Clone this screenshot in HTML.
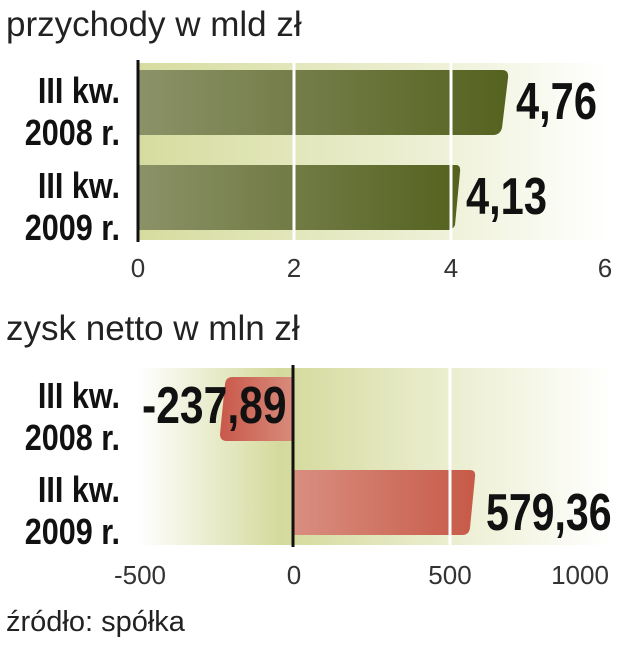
<!DOCTYPE html>
<html><head><meta charset="utf-8"><style>
body{margin:0;background:#fff;width:619px;height:640px;overflow:hidden;font-family:"Liberation Sans",sans-serif}
</style></head><body>
<svg width="619" height="640" xmlns="http://www.w3.org/2000/svg" font-family="Liberation Sans, sans-serif">
<defs>
<linearGradient id="bg" x1="0" x2="1"><stop offset="0" stop-color="#d6dc9f"/><stop offset="0.6" stop-color="#ecefd2"/><stop offset="1" stop-color="#ffffff"/></linearGradient>
<linearGradient id="bg2" x1="0" x2="1"><stop offset="0" stop-color="#ffffff"/><stop offset="0.3" stop-color="#d4da9c"/><stop offset="0.7" stop-color="#eef0d6"/><stop offset="1" stop-color="#ffffff"/></linearGradient>
<linearGradient id="g" x1="0" x2="1"><stop offset="0" stop-color="#8b9268"/><stop offset="1" stop-color="#55621f"/></linearGradient>
<linearGradient id="r1" x1="0" x2="1"><stop offset="0" stop-color="#c9584a"/><stop offset="1" stop-color="#d88b7c"/></linearGradient>
<linearGradient id="r2" x1="0" x2="1"><stop offset="0" stop-color="#d98e80"/><stop offset="1" stop-color="#c75a48"/></linearGradient>
</defs>
<text x="6" y="36" font-size="35" fill="#222">przychody w mld zł</text>
<rect x="138" y="63" width="470" height="177" fill="url(#bg)"/>
<path d="M138 70 H502 Q509 70 508 78 L502 128 Q500 135 493 135 H138Z" fill="url(#g)"/>
<path d="M138 165 H456 Q461 165 460 172 L455 225 Q453 230 448 230 H138Z" fill="url(#g)"/>
<line x1="294" y1="63" x2="294" y2="240" stroke="#fff" stroke-width="3"/>
<line x1="451" y1="63" x2="451" y2="240" stroke="#fff" stroke-width="3"/>
<line x1="138" y1="60" x2="138" y2="242" stroke="#111" stroke-width="3"/>
<g font-weight="bold" font-size="36" fill="#111" text-anchor="end">
<text transform="translate(120,103) scale(0.85,1)">III kw.</text>
<text transform="translate(120,145) scale(0.85,1)">2008 r.</text>
<text transform="translate(120,198) scale(0.85,1)">III kw.</text>
<text transform="translate(120,240) scale(0.85,1)">2009 r.</text>
</g>
<g font-weight="bold" font-size="52" fill="#111">
<text transform="translate(516,119) scale(0.8,1)">4,76</text>
<text transform="translate(466,214) scale(0.8,1)">4,13</text>
</g>
<g font-size="26" fill="#333" text-anchor="middle">
<text x="138" y="277">0</text><text x="294" y="277">2</text><text x="451" y="277">4</text><text x="605" y="277">6</text>
</g>
<text x="6" y="340" font-size="35" fill="#222">zysk netto w mln zł</text>
<rect x="138" y="368" width="475" height="177" fill="url(#bg2)"/>
<path d="M293 377 H232 Q226 377 225 384 L220 434 Q220 441 227 441 H293Z" fill="url(#r1)"/>
<path d="M293 470 H470 Q476 470 475 477 L470 528 Q469 535 462 535 H293Z" fill="url(#r2)"/>
<line x1="450" y1="368" x2="450" y2="545" stroke="#fff" stroke-width="3"/>
<line x1="293" y1="365" x2="293" y2="547" stroke="#111" stroke-width="3"/>
<g font-weight="bold" font-size="36" fill="#111" text-anchor="end">
<text transform="translate(120,408) scale(0.85,1)">III kw.</text>
<text transform="translate(120,450) scale(0.85,1)">2008 r.</text>
<text transform="translate(120,502) scale(0.85,1)">III kw.</text>
<text transform="translate(120,544) scale(0.85,1)">2009 r.</text>
</g>
<g font-weight="bold" font-size="52" fill="#111">
<text transform="translate(142,423) scale(0.82,1)">-237,89</text>
<text transform="translate(486,530) scale(0.79,1)">579,36</text>
</g>
<g font-size="26" fill="#333" text-anchor="middle">
<text x="140" y="584">-500</text><text x="294" y="584">0</text><text x="450" y="584">500</text><text x="580" y="584">1000</text>
</g>
<text x="6" y="631" font-size="29" fill="#222">źródło: spółka</text>
</svg>
</body></html>
